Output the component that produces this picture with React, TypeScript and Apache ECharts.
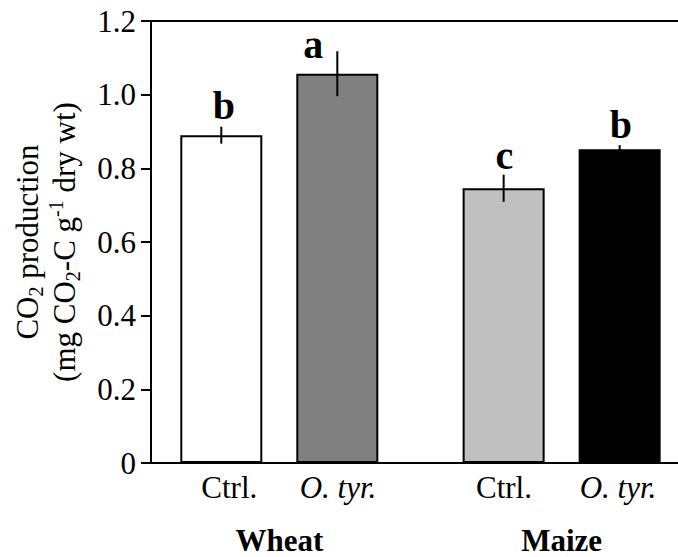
import React, { useEffect, useRef } from "react";
import * as echarts from "echarts";

// ---- data ----
const groups = ["Wheat", "Maize"];
const treatments = ["Ctrl.", "O. tyr."];
// order: Wheat Ctrl., Wheat O. tyr., Maize Ctrl., Maize O. tyr.
const meanValues = [0.89, 1.057, 0.746, 0.852];
const errorValues = [0.023, 0.061, 0.037, 0.011];
const letters = ["b", "a", "c", "b"];
const yMin = 0;
const yMax = 1.2;
const yInterval = 0.2;

// ---- styling / layout ----
const FONT = '"Liberation Serif", "Times New Roman", serif';
const FILLS = ["#ffffff", "#808080", "#c0c0c0", "#000000"];
const FIRST = 0.606;
const GROUP_PITCH = 2.434;
const X_MAX = 4.543;
const LETTER_OFFSET = [
  [2.7, -0.7],
  [-24, 13.7],
  [0.8, 1],
  [1.3, -0.3],
];
const LABEL_DX = [8, 0.7, 0.3, -1.7];

export default function App() {
  const ref = useRef<HTMLDivElement>(null);

  useEffect(() => {
    document.body.style.margin = "0";
    if (!ref.current) return;
    const chart = echarts.init(ref.current, undefined, { renderer: "svg" });

    const items = meanValues.map((m, i) => {
      const g = Math.floor(i / treatments.length);
      const t = i % treatments.length;
      return { x: FIRST + g * GROUP_PITCH + t, mean: m, err: errorValues[i], g, t };
    });
    const groupCenters = groups.map((_, g) => FIRST + g * GROUP_PITCH + (treatments.length - 1) / 2);

    const option: any = {
      animation: false,
      grid: { left: 151, right: 0, top: 21, bottom: 94, outerBoundsMode: "none", containLabel: false },
      xAxis: [
        {
          type: "value",
          min: 0,
          max: X_MAX,
          position: "bottom",
          splitLine: { show: false },
          axisTick: { show: false },
          axisLine: { show: true, onZero: false, lineStyle: { color: "#000", width: 2 } },
          axisLabel: {
            show: true,
            customValues: groupCenters,
            margin: 62,
            color: "#000",
            fontFamily: FONT,
            fontSize: 31,
            fontWeight: "bold",
            formatter: (v: number) => {
              const g = Math.round((v - FIRST - (treatments.length - 1) / 2) / GROUP_PITCH);
              return groups[g] ?? "";
            },
          },
        },
        {
          type: "value",
          min: 0,
          max: X_MAX,
          position: "top",
          splitLine: { show: false },
          axisTick: { show: false },
          axisLabel: { show: false },
          axisLine: { show: true, onZero: false, lineStyle: { color: "#000", width: 2 } },
        },
      ],
      yAxis: {
        type: "value",
        min: yMin,
        max: yMax,
        interval: yInterval,
        splitLine: { show: false },
        axisLine: { show: true, lineStyle: { color: "#000", width: 2 } },
        axisTick: { show: true, inside: false, length: 10, lineStyle: { color: "#000", width: 2 } },
        axisLabel: {
          margin: 15,
          color: "#000",
          fontFamily: FONT,
          fontSize: 31,
          formatter: (v: number) => (v === 0 ? "0" : v.toFixed(1)),
        },
        name: "{n|CO}{s|2}{n| production}\n{n|(mg CO}{s|2}{n|-C g}{p|-1}{n| dry wt)}",
        nameLocation: "middle",
        nameRotate: 90,
        nameGap: 68,
        nameTextStyle: {
          color: "#000",
          fontFamily: FONT,
          fontSize: 31,
          lineHeight: 37,
          rich: {
            n: { color: "#000", fontFamily: FONT, fontSize: 31, lineHeight: 37 },
            s: { color: "#000", fontFamily: FONT, fontSize: 20, lineHeight: 22, verticalAlign: "bottom" },
            p: { color: "#000", fontFamily: FONT, fontSize: 20, lineHeight: 22, verticalAlign: "top" },
          },
        },
      },
      series: [
        {
          type: "bar",
          xAxisIndex: 0,
          barWidth: 82,
          data: items.map((d, i) => ({
            value: [d.x, d.mean],
            itemStyle: { color: FILLS[i], borderColor: "#000", borderWidth: 2 },
            label: { offset: [LABEL_DX[i], 0] },
          })),
          label: {
            show: true,
            position: "bottom",
            distance: 9,
            formatter: (p: any) => {
              const t = p.dataIndex % treatments.length;
              return t === 0 ? `{n|${treatments[t]}}` : `{i|${treatments[t]}}`;
            },
            rich: {
              n: { color: "#000", fontFamily: FONT, fontSize: 31, lineHeight: 31 },
              i: { color: "#000", fontFamily: FONT, fontSize: 31, lineHeight: 31, fontStyle: "italic" },
            },
          },
          z: 2,
        },
        {
          type: "custom",
          xAxisIndex: 0,
          clip: false,
          z: 5,
          encode: { x: 0, y: 1 },
          data: items.map((d) => [d.x, d.mean, d.err]),
          renderItem: (params: any, api: any) => {
            const i = params.dataIndex;
            const x = api.value(0);
            const m = api.value(1);
            const e = api.value(2);
            const top = api.coord([x, m + e]);
            const bot = api.coord([x, m - e]);
            const off = LETTER_OFFSET[i];
            const baseline = top[1] - 7 + off[1];
            const fs = 40;
            return {
              type: "group",
              children: [
                {
                  type: "line",
                  shape: { x1: top[0], y1: top[1], x2: bot[0], y2: bot[1] },
                  style: { stroke: "#000", lineWidth: 2 },
                },
                {
                  type: "text",
                  x: top[0] + off[0],
                  y: baseline - 0.3375 * fs,
                  style: {
                    text: letters[i],
                    fontSize: fs,
                    fontWeight: "bold",
                    fontFamily: FONT,
                    fill: "#000",
                    align: "center",
                    verticalAlign: "middle",
                  },
                },
              ],
            };
          },
        },
      ],
    };

    chart.setOption(option);
    return () => chart.dispose();
  }, []);

  return <div ref={ref} style={{ width: 678, height: 557 }} />;
}
